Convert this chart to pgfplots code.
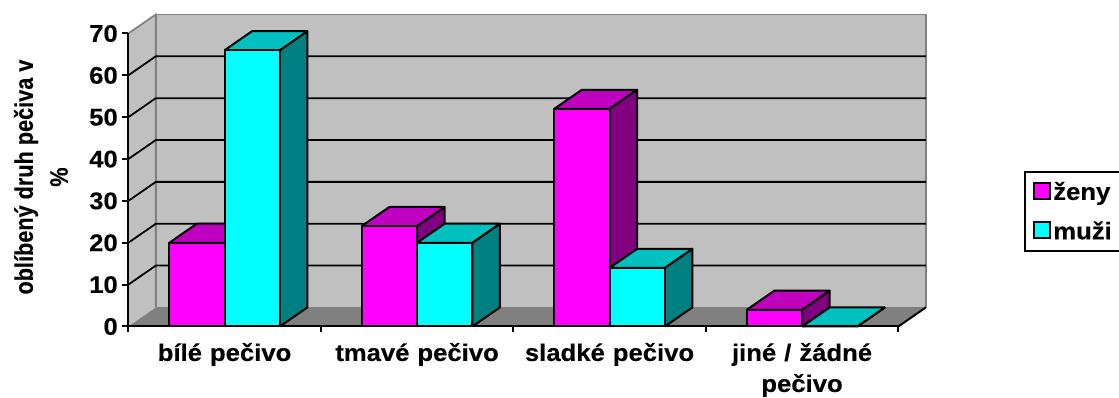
\documentclass[border=0pt]{standalone}
\usepackage{fontspec}
\usepackage{pgfplots}
\usepackage{pgfplotstable}
\pgfplotsset{compat=1.18}
\setmainfont{Liberation Sans}
\newfontfamily\widefont[FakeStretch=1.07,FakeBold=0.25]{Liberation Sans}
\newfontfamily\narrowfont[FakeStretch=0.85,FakeBold=0.25]{Liberation Sans}
\newcommand{\hlabel}{\widefont\bfseries\fontsize{24}{31}\selectfont}
\newcommand{\vlabel}{\narrowfont\bfseries\fontsize{25.5}{35}\selectfont}
\definecolor{wall}{HTML}{C0C0C0}
\definecolor{floorc}{HTML}{808080}
\definecolor{zf}{HTML}{FF00FF}
\definecolor{zt}{HTML}{C000C0}
\definecolor{zs}{HTML}{800080}
\definecolor{mf}{HTML}{00FFFF}
\definecolor{mt}{HTML}{00C0C0}
\definecolor{ms}{HTML}{008080}
\pgfplotstableread{
cat zeny muzi
0   20   66
1   24   20
2   52   14
3   4    0
}\bardata
% depth of the pseudo-3D box, in axis units
\def\ddx{0.143}
\def\ddy{4.55}
\def\halfbar{0.287}
% top and side faces of one bar
\newcommand{\barfaces}[5]{%
  \pgfmathsetmacro\xa{#1}\pgfmathsetmacro\xb{#2}%
  \pgfmathsetmacro\xc{#1+\ddx}\pgfmathsetmacro\xd{#2+\ddx}%
  \pgfmathsetmacro\yt{#3}\pgfmathsetmacro\yu{#3+\ddy}%
  \addplot[forget plot,fill=#5,draw=black,line width=2pt,line join=round]
    coordinates {(\xb,0) (\xd,\ddy) (\xd,\yu) (\xb,\yt) (\xb,0)};
  \addplot[forget plot,fill=#4,draw=black,line width=2pt,line join=round]
    coordinates {(\xa,\yt) (\xb,\yt) (\xd,\yu) (\xc,\yu) (\xa,\yt)};
}
\begin{document}
\begin{tikzpicture}
\useasboundingbox (0,0) rectangle (1119pt,398pt);
\begin{axis}[
  at={(128.3pt,71.5pt)}, anchor=south west,
  scale only axis, width=770pt, height=293pt,
  clip=false, axis on top,
  axis lines=left, axis line style={-,line width=2pt,black},
  xmin=-0.5, xmax=3.5, ymin=0, ymax=70,
  ytick={0,10,...,70},
  xtick={0,1,2,3},
  xticklabels={bílé pečivo,tmavé pečivo,sladké pečivo,{jiné / žádné\\pečivo}},
  minor xtick={-0.5,0.5,1.5,2.5,3.5},
  tick align=outside,
  major tick length=6pt, minor tick length=6pt,
  x tick style={draw=none},
  minor x tick style={draw=black,line width=2pt},
  y tick style={draw=black,line width=2pt},
  /pgf/number format/assume math mode=true,
  yticklabel style={font=\hlabel,xshift=-1pt},
  xticklabel style={font=\hlabel,align=center,text width=190pt,yshift=-7pt,
    anchor=north},
  ylabel={oblíbený druh pečiva v\\\%},
  every axis y label/.style={at={(axis description cs:-0.1135,0.51)},
    rotate=90,anchor=center,align=center,font=\vlabel},
  legend style={at={(axis description cs:1.1636,0.5307)},anchor=north west,
    draw=black,line width=2pt,fill=white,font=\hlabel,
    inner xsep=8pt,inner ysep=8pt,
    /tikz/every even column/.append style={column sep=8pt},
    row sep=16pt},
  legend cell align=left,
]
% walls and floor
\addplot[forget plot,fill=wall,draw=floorc,line width=1.7pt]
  coordinates {(-0.357,4.55) (3.643,4.55) (3.643,74.55) (-0.357,74.55) (-0.357,4.55)};
\addplot[forget plot,fill=wall,draw=none]
  coordinates {(-0.5,0) (-0.357,4.55) (-0.357,74.55) (-0.5,70) (-0.5,0)};
\addplot[forget plot,floorc,line width=1.7pt]
  coordinates {(-0.5,70) (-0.357,74.55) (-0.357,4.55)};
\addplot[forget plot,fill=floorc,draw=none]
  coordinates {(-0.5,0) (3.5,0) (3.643,4.55) (-0.357,4.55) (-0.5,0)};
\addplot[forget plot,black,line width=2pt]
  coordinates {(3.5,0) (3.643,4.55)};
% grid lines on the back and the left wall
\pgfplotsinvokeforeach{10,20,30,40,50,60}{
  \pgfmathsetmacro\gy{#1+\ddy}
  \addplot[forget plot,black,line width=1.8pt]
    coordinates {(-0.5,#1) (-0.357,\gy) (3.643,\gy)};
}
% women: depth faces, then front faces
\pgfplotsinvokeforeach{0,1,2,3}{
  \pgfplotstablegetelem{#1}{zeny}\of\bardata
  \let\val\pgfplotsretval
  \barfaces{#1-\halfbar}{#1}{\val}{zt}{zs}
}
\addplot[forget plot,ybar,bar width=\halfbar,bar shift=-0.1435,fill=zf,draw=black,line width=2pt]
  table[x=cat,y=zeny]{\bardata};
% men: depth faces, then front faces
\pgfplotsinvokeforeach{0,1,2,3}{
  \pgfplotstablegetelem{#1}{muzi}\of\bardata
  \let\val\pgfplotsretval
  \barfaces{#1}{#1+\halfbar}{\val}{mt}{ms}
}
\addplot[forget plot,ybar,bar width=\halfbar,bar shift=0.1435,fill=mf,draw=black,line width=2pt]
  table[x=cat,y=muzi]{\bardata};
% legend
\addlegendimage{legend image code/.code={\draw[fill=zf,draw=black,line width=2pt] (0pt,-7pt) rectangle (16pt,9pt);}}
\addlegendentry{ženy}
\addlegendimage{legend image code/.code={\draw[fill=mf,draw=black,line width=2pt] (0pt,-7pt) rectangle (16pt,9pt);}}
\addlegendentry{muži}
\end{axis}
\end{tikzpicture}
\end{document}
